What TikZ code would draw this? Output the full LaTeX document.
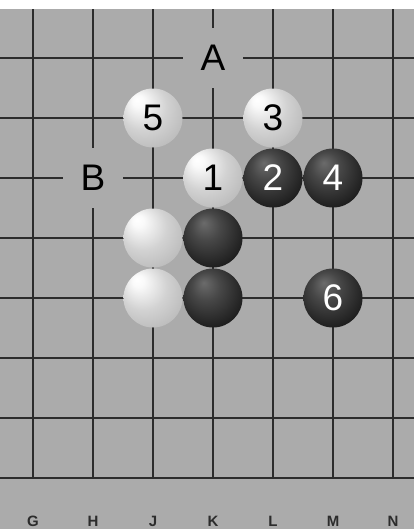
\documentclass[tikz,border=0pt]{standalone}
\usepackage{fontspec}
\newfontfamily\goFont{Liberation Sans}
\usepackage{xcolor}
\definecolor{BoardGray} {HTML}{ABABAB}
\definecolor{LineDark}  {HTML}{2C2C2C}
\definecolor{StoneWhite}{HTML}{D2D2D2}
\definecolor{StoneEdge} {HTML}{9C9C9C}
\usetikzlibrary{positioning}
\pgfdeclareradialshading{whiteStoneShade}{\pgfpoint{-14bp}{16bp}}{%
  color(0bp)=(white); color(5bp)=(white!96!gray);
  color(20bp)=(StoneWhite); color(42bp)=(StoneEdge!70!StoneWhite);
  color(50bp)=(StoneEdge)}
\pgfdeclareradialshading{blackStoneShade}{\pgfpoint{-8bp}{13bp}}{%
  color(0bp)=(black!58); color(12bp)=(black!72);
  color(30bp)=(black!88); color(50bp)=(black)}
\tikzset{
  gridline/.style={LineDark,line width=2pt},
  stonebase/.style={circle,minimum size=59pt,inner sep=0pt,
    font=\goFont\fontsize{37}{37}\selectfont},
  whitestone/.style={stonebase,shading=whiteStoneShade,text=black},
  blackstone/.style={stonebase,shading=blackStoneShade,text=white},
  markpoint/.style={rectangle,fill=BoardGray,minimum size=60pt,
    inner sep=0pt,font=\goFont\fontsize{37}{37}\selectfont},
  collabel/.style={font=\goFont\bfseries\fontsize{15}{15}\selectfont,
    text=LineDark},
}
\begin{document}
\begin{tikzpicture}[x=60pt,y=-60pt]
  \useasboundingbox (-0.55,-0.9667) rectangle (6.35,7.85);
  \fill[BoardGray] (-0.55,-0.8167) rectangle (6.35,7.85);
  % board lines
  \foreach \r in {0,...,7}
    \draw[gridline] (-0.55,\r) -- (6.35,\r);
  \foreach \c in {0,...,6}
    \draw[gridline] (\c,-0.8167) -- (\c,7);
  % lettered points
  \node[markpoint](markA)at(3,0){A};
  \node[markpoint](markB)at(1,2){B};
  % stones
  \node[whitestone](w5)at(2,1){5};
  \node[whitestone](w3)at(4,1){3};
  \node[whitestone](w1)at(3,2){1};
  \node[blackstone](b2)at(4,2){2};
  \node[blackstone](b4)at(5,2){4};
  \node[whitestone](wJ3)at(2,3){};
  \node[blackstone](bK3)at(3,3){};
  \node[whitestone](wJ4)at(2,4){};
  \node[blackstone](bK4)at(3,4){};
  \node[blackstone](b6)at(5,4){6};
  % column letters
  \foreach \col [count=\i from 0] in {G,H,J,K,L,M,N}
    \node[collabel](col\col)at(\i,7.717){\col};
\end{tikzpicture}
\end{document}
